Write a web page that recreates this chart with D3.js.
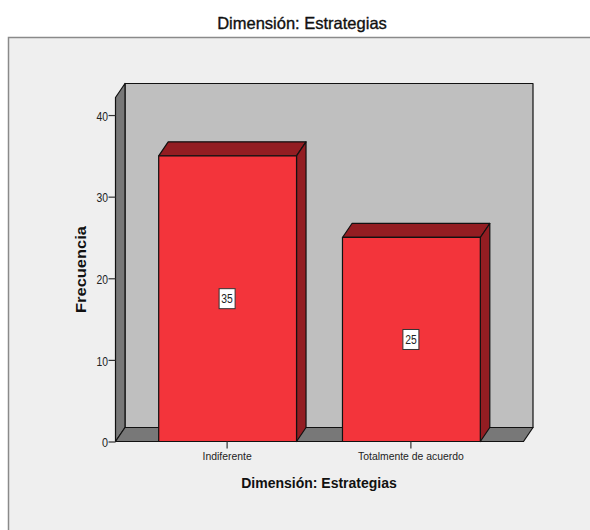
<!DOCTYPE html>
<html><head><meta charset="utf-8">
<script src="https://cdn.jsdelivr.net/npm/d3@7"></script>
<style>html,body{margin:0;padding:0;background:#fff}svg{display:block}text{font-family:"Liberation Sans",Arial,sans-serif}</style>
</head><body><div id="c"></div>
<script>
const categories = ["Indiferente", "Totalmente de acuerdo"];
const frequencies = [35, 25];
const yTicks = [0, 10, 20, 30, 40];
const chartTitle = "Dimensión: Estrategias";
const xLabel = "Dimensión: Estrategias";
const yLabel = "Frecuencia";

const W = 590, H = 530;
const dx = 9.5, dy = -14;
const C = {frame:"#efefef", frameLine:"#8a8a8a", wall:"#bfbfbf", side:"#787878", bar:"#f3343b", dark:"#931d22", line:"#111", tick:"#333", text:"#222"};
const svg = d3.select("#c").append("svg").attr("width", W).attr("height", H);

const x = d3.scaleBand().domain(categories).range([115.5, 523.5]).paddingInner(0.25).paddingOuter(0.235);
const y = d3.scaleLinear().domain([0, 42.15]).range([441.5, 97.5]);
const [x0, x1] = x.range(), [y0, y1] = y.range();

svg.append("rect").attr("x", 8.5).attr("y", 37.5).attr("width", W).attr("height", H).attr("fill", C.frame).attr("stroke", C.frameLine).attr("stroke-width", 1.5);

const poly = (pts, fill, sw = 1.2, stroke = C.line) => svg.append("polygon")
  .attr("points", pts.map(p => p.join(",")).join(" ")).attr("fill", fill)
  .attr("stroke", stroke).attr("stroke-width", sw).attr("stroke-linejoin", "round");

// walls and floor
poly([[x0+dx, y1+dy], [x1+dx, y1+dy], [x1+dx, y0+dy], [x0+dx, y0+dy]], C.wall);
poly([[x0, y1], [x0+dx, y1+dy], [x0+dx, y0+dy], [x0, y0]], C.side);
poly([[x0, y0], [x0+dx, y0+dy], [x1+dx, y0+dy], [x1, y0]], C.side);

// bars
const rows = categories.map((c, i) => ({c, v: frequencies[i]}));
rows.forEach(d => {
  const l = x(d.c), r = l + x.bandwidth(), t = y(d.v);
  poly([[l, t], [l+dx, t+dy], [r+dx, t+dy], [r, t]], C.dark);
  poly([[r, t], [r+dx, t+dy], [r+dx, y0+dy], [r, y0]], C.dark);
  poly([[l, t], [r, t], [r, y0], [l, y0]], C.bar);
});

// value labels
rows.forEach(d => {
  const cx = x(d.c) + x.bandwidth()/2 - 0.5, cy = y(d.v/2);
  svg.append("rect").attr("x", cx-8).attr("y", cy-10).attr("width", 16).attr("height", 20)
    .attr("fill", "#fff").attr("stroke", "#333").attr("stroke-width", 1);
  svg.append("text").attr("x", cx).attr("y", cy+4.4).attr("text-anchor", "middle")
    .attr("font-size", 12.5).attr("textLength", 11.5).attr("lengthAdjust", "spacingAndGlyphs").attr("fill", C.text).text(d.v);
});

// axes
const gy = svg.append("g").attr("transform", `translate(${x0},0)`)
  .call(d3.axisLeft(y).tickValues(yTicks).tickSize(7).tickPadding(0.5).tickSizeOuter(0));
gy.select(".domain").remove();
gy.selectAll("line").attr("stroke", C.tick).attr("stroke-width", 1.2);
gy.selectAll("text").attr("font-size", 12.5).attr("fill", C.text).attr("dy", "0.42em")
  .attr("font-family", '"Liberation Sans",Arial,sans-serif')
  .attr("textLength", d => d < 10 ? 6 : 11.5).attr("lengthAdjust", "spacingAndGlyphs");

const gx = svg.append("g").attr("transform", `translate(-0.5,${y0})`)
  .call(d3.axisBottom(x).tickSize(7).tickPadding(4.5).tickSizeOuter(0));
gx.select(".domain").remove();
gx.selectAll("line").attr("stroke", C.tick).attr("stroke-width", 1.2);
gx.selectAll("text").attr("font-size", 10.4).attr("fill", C.text).attr("font-family", '"Liberation Sans",Arial,sans-serif');

// titles
svg.append("text").attr("x", 302).attr("y", 29).attr("text-anchor", "middle").attr("font-size", 16.5).attr("fill", "#111").attr("stroke", "#111").attr("stroke-width", 0.35).text(chartTitle);
svg.append("text").attr("x", 319).attr("y", 488).attr("text-anchor", "middle").attr("font-size", 14).attr("font-weight", "bold").attr("fill", "#111").text(xLabel);
svg.append("text").attr("transform", "translate(85.5,269.5) rotate(-90)").attr("text-anchor", "middle").attr("font-size", 14.5).attr("font-weight", "bold").attr("fill", "#111").attr("textLength", 87).attr("lengthAdjust", "spacingAndGlyphs").text(yLabel);
</script></body></html>
